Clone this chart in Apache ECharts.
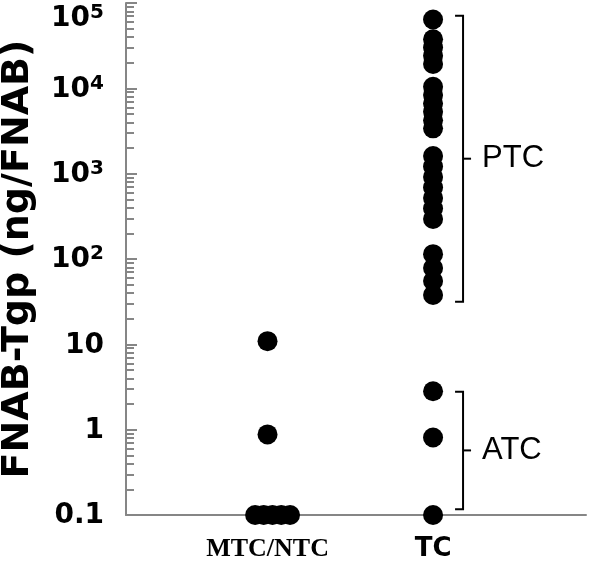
<!DOCTYPE html>
<html>
<head>
<meta charset="utf-8">
<script src="https://cdn.jsdelivr.net/npm/echarts@6/dist/echarts.min.js"></script>
<style>
  html, body { margin: 0; padding: 0; background: #fff; }
  #chart { width: 600px; height: 565px; }
</style>
</head>
<body>
<div id="chart"></div>
<script>
// ---- data ----
const categories = ['MTC/NTC', 'TC'];
const mtcNtcValues = [10.9, 0.88, 0.1, 0.1, 0.1, 0.1, 0.1];
const mtcNtcJitter = [0, 0, -0.075, -0.023, 0.03, 0.083, 0.136];
const tcPtcValues = [64000, 37600, 30100, 24100, 19300, 10450, 8350, 6660, 5310, 4230, 3400,
                     1610, 1210, 914, 689, 519, 391, 294, 114, 78.5, 55.2, 37.9];
const tcAtcValues = [2.82, 0.81, 0.1];
const bracketLabels = ['PTC', 'ATC'];
const bracketRanges = [[31.6, 71000], [0.117, 2.79]];
const yTickLabels = [['0.1', ''], ['1', ''], ['10', ''], ['10', '2'], ['10', '3'], ['10', '4'], ['10', '5']];

const chart = echarts.init(document.getElementById('chart'), null, { renderer: 'canvas' });
const axisGray = '#868686';

const option = {
  animation: false,
  backgroundColor: '#fff',
  grid: { left: 126, right: 14, top: 3, bottom: 50, containLabel: false, outerBoundsMode: 'none' },
  xAxis: {
    type: 'value',
    min: 0.145,
    max: 2.924,
    splitLine: { show: false },
    axisTick: { show: false },
    axisLine: { show: true, onZero: false, lineStyle: { color: axisGray, width: 2 } },
    axisLabel: {
      customValues: [1, 2],
      margin: 21,
      formatter: function (v) {
        const i = Math.round(v) - 1;
        return i === 0 ? '{serif|' + categories[i] + '}' : '{sans|' + categories[i] + '}';
      },
      rich: {
        serif: { fontFamily: '"Liberation Serif"', fontWeight: 'bold', fontSize: 26, color: '#000' },
        sans: { fontFamily: '"DejaVu Sans"', fontWeight: 'bold', fontSize: 26, color: '#000' }
      }
    }
  },
  yAxis: {
    type: 'log',
    logBase: 10,
    min: 0.1,
    max: 100000,
    name: 'FNAB-Tgp (ng/FNAB)',
    nameLocation: 'middle',
    nameRotate: 90,
    nameGap: 89,
    nameTextStyle: { fontFamily: '"DejaVu Sans"', fontWeight: 'bold', fontSize: 38, color: '#000' },
    splitLine: { show: false },
    axisLine: { show: true, lineStyle: { color: axisGray, width: 2 } },
    axisTick: { show: true, inside: true, length: 11, lineStyle: { color: axisGray, width: 2 } },
    minorTick: { show: true, splitNumber: 9, length: 8, lineStyle: { color: axisGray, width: 2 } },
    axisLabel: {
      margin: 22,
      verticalAlignMaxLabel: 'top',
      formatter: function (v) {
        const e = Math.round(Math.log10(v));
        const lab = yTickLabels[e + 1];
        if (!lab[1]) return '{b|' + lab[0] + '}';
        return '{b|' + lab[0] + '}{s|' + lab[1] + '}';
      },
      rich: {
        b: { fontFamily: '"DejaVu Sans"', fontWeight: 'bold', fontSize: 28, lineHeight: 30, color: '#000', verticalAlign: 'bottom' },
        s: { fontFamily: '"DejaVu Sans"', fontWeight: 'bold', fontSize: 20, lineHeight: 22, color: '#000', verticalAlign: 'top', padding: [0, 0, 14, 0] }
      }
    }
  },
  series: [
    {
      type: 'scatter',
      symbol: 'circle',
      symbolSize: 20,
      itemStyle: { color: '#000', opacity: 1 },
      data: mtcNtcValues.map((v, i) => [1 + mtcNtcJitter[i], v])
    },
    {
      type: 'scatter',
      symbol: 'circle',
      symbolSize: 20,
      itemStyle: { color: '#000', opacity: 1 },
      data: tcPtcValues.concat(tcAtcValues).map(v => [2, v])
    },
    {
      type: 'custom',
      coordinateSystem: 'cartesian2d',
      silent: true,
      clip: false,
      encode: { x: 0, y: [1, 2] },
      data: bracketRanges.map(r => [2, r[0], r[1]]),
      renderItem: function (params, api) {
        const top = api.coord([api.value(0), api.value(2)]);
        const bot = api.coord([api.value(0), api.value(1)]);
        const x = top[0] + 30;
        const mid = (top[1] + bot[1]) / 2;
        return {
          type: 'group',
          children: [
            { type: 'polyline', shape: { points: [[x - 8, top[1]], [x, top[1]], [x, bot[1]], [x - 8, bot[1]]] },
              style: { stroke: '#000', lineWidth: 2, fill: null } },
            { type: 'line', shape: { x1: x, y1: mid, x2: x + 8, y2: mid },
              style: { stroke: '#000', lineWidth: 2 } },
            { type: 'text', style: { text: bracketLabels[params.dataIndex], x: x + 19, y: mid,
              align: 'left', verticalAlign: 'middle', fontFamily: '"Liberation Sans"', fontSize: 31, fill: '#000' } }
          ]
        };
      }
    }
  ]
};
chart.setOption(option);
</script>
</body>
</html>
